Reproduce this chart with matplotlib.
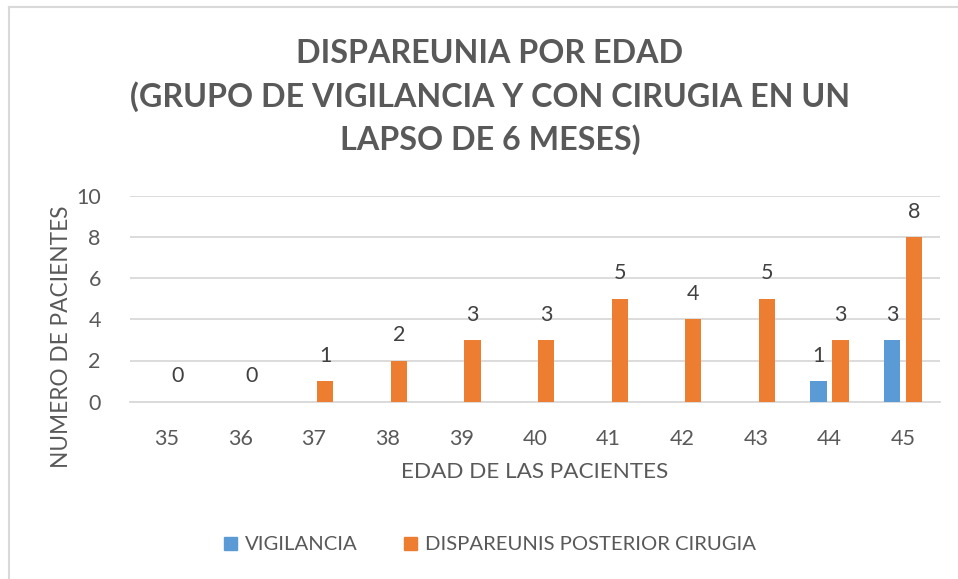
import matplotlib
matplotlib.use("Agg")
import matplotlib.pyplot as plt
import numpy as np
from matplotlib.lines import Line2D
from matplotlib.patches import Patch

ages = ["35", "36", "37", "38", "39", "40", "41", "42", "43", "44", "45"]
vigilancia = [0, 0, 0, 0, 0, 0, 0, 0, 0, 1, 3]
dispareunia = [0, 0, 1, 2, 3, 3, 5, 4, 5, 3, 8]
series_names = ["VIGILANCIA", "DISPAREUNIS POSTERIOR CIRUGIA"]
title = "DISPAREUNIA POR EDAD\n(GRUPO DE VIGILANCIA Y CON CIRUGIA EN UN\nLAPSO DE 6 MESES)"
yticks = [0, 2, 4, 6, 8, 10]

plt.rcParams['font.family'] = ['Lato', 'DejaVu Sans']
BLUE = "#5B9BD5"
ORANGE = "#ED7D31"
TXT = "#595959"

W, H = 958, 579
fig = plt.figure(figsize=(W / 100, H / 100), dpi=100)
ax = fig.add_axes([130 / W, 1 - 401.7 / H, (940 - 130) / W, (401.7 - 195.7) / H])

x = np.arange(len(ages))
bw = 0.22
off = 0.15
ax.bar(x - off, vigilancia, bw, color=BLUE, zorder=3)
ax.bar(x + off, dispareunia, bw, color=ORANGE, zorder=3)

for xi, v in zip(x, vigilancia):
    if v > 0:
        ax.annotate(str(v), (xi - off, v), xytext=(0, 11), textcoords="offset points",
                    ha="center", va="bottom", fontsize=15.5, color="#404040")
for xi, v in zip(x, dispareunia):
    ax.annotate(str(v), (xi + off, v), xytext=(0, 11), textcoords="offset points",
                ha="center", va="bottom", fontsize=15.5, color="#404040")

ax.set_xlim(-0.5, len(ages) - 0.5)
ax.set_ylim(0, 10)
ax.set_yticks(yticks)
ax.set_xticks(x)
ax.set_xticklabels(ages)
ax.tick_params(axis="both", length=0, labelsize=15.5, labelcolor=TXT)
ax.tick_params(axis="y", pad=21)
ax.tick_params(axis="x", pad=20)
ax.grid(axis="y", color="#D9D9D9", linewidth=1.3, zorder=0)
ax.set_axisbelow(True)
for s in ["top", "right", "left"]:
    ax.spines[s].set_visible(False)
ax.spines["bottom"].set_color("#D9D9D9")
ax.spines["bottom"].set_linewidth(1.3)

fig.text(490 / W, 1 - 97 / H, title, ha="center", va="center", fontsize=23.2,
         fontweight="bold", color=TXT, linespacing=1.5)
fig.text(62 / W, 1 - 337 / H, "NUMERO DE PACIENTES", rotation=90, ha="center", va="center",
         fontsize=16.3, color=TXT)
fig.text(535 / W, 1 - 472 / H, "EDAD DE LAS PACIENTES", ha="center", va="center",
         fontsize=16.2, color=TXT)

handles = [Patch(color=BLUE), Patch(color=ORANGE)]
leg = fig.legend(handles, series_names, loc="center", bbox_to_anchor=(490 / W, 1 - 545 / H),
                 ncol=2, frameon=False, fontsize=14.6, handlelength=0.65, handleheight=0.65,
                 handletextpad=0.4, columnspacing=2.3)
for t in leg.get_texts():
    t.set_color(TXT)

# chart area border (top and left)
fig.add_artist(Line2D([8.5 / W, 1], [1 - 6.5 / H, 1 - 6.5 / H], color="#D9D9D9", lw=1.5,
                      transform=fig.transFigure))
fig.add_artist(Line2D([8.5 / W, 8.5 / W], [0, 1 - 6.5 / H], color="#D9D9D9", lw=1.5,
                      transform=fig.transFigure))

fig.savefig("out.png", dpi=100)
